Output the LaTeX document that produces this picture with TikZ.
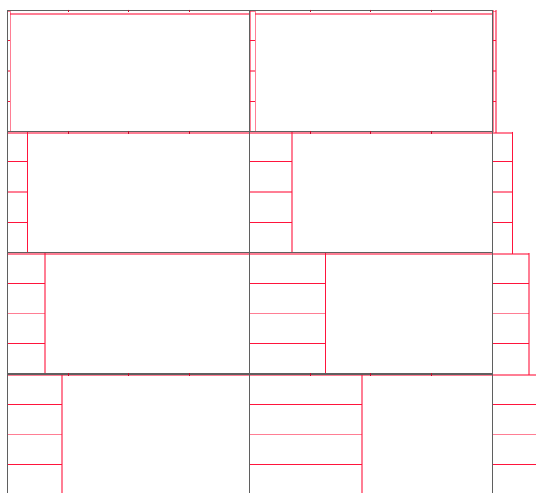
\documentclass[tikz,border=0pt]{standalone}
\definecolor{crim}{RGB}{255,20,60}
\definecolor{gridgray}{RGB}{95,95,95}
\tikzset{
  gridline/.style={draw=gridgray, line width=1.3pt},
  pinkline/.style={draw=crim, draw opacity=0.55, line width=1.6pt},
  redline/.style={draw=crim, line width=1.1pt},
  tickmark/.style={draw=crim!75!black, line width=1pt}
}
\begin{document}
\begin{tikzpicture}[x=1pt,y=-1pt]
\useasboundingbox (0,0) rectangle (536,493);
\def\xa{7.4}
\def\xb{249.6}
\def\xc{492.4}
\def\ya{10.4}
\def\H{121.2}
\def\W{242.6}
% red subdivisions, row by row
\foreach \r/\a/\b/\c/\mt/\vo/\ca/\cb/\cc in {
  0/2.9/5.7/3.6/3.3/0.9/pinkline/pinkline/pinkline,
  1/19.9/42.4/19.9/1.3/0/redline/pinkline/redline,
  2/37.6/76.1/36.3/1.3/0/pinkline/redline/pinkline,
  3/54.3/112.4/52.5/1.3/0/pinkline/pinkline/pinkline}{
  \pgfmathsetmacro\yt{\ya+\r*\H}
  \pgfmathsetmacro\yb{\yt+\H}
  \pgfmathsetmacro\yq{\yt+0.25*\H}
  \pgfmathsetmacro\yh{\yt+0.5*\H}
  \pgfmathsetmacro\yr{\yt+0.75*\H}
  % tops of the strips and of the main boxes
  \draw[pinkline] (\xa,\yt+1.2) -- (\xa+\a,\yt+1.2);
  \draw[pinkline] (\xb,\yt+1.2) -- (\xb+\b,\yt+1.2);
  \draw[pinkline] (\xc,\yt+1.2) -- (\xc+\c,\yt+1.2);
  \draw[pinkline] (\xa+\a,\yt+\mt) -- (\xb,\yt+\mt);
  \draw[pinkline] (\xb+\b,\yt+\mt) -- (\xc,\yt+\mt);
  % outer verticals
  \draw[pinkline] (\xa,\yt) -- (\xa,\yb);
  \draw[pinkline] (\xb+\vo,\yt) -- (\xb+\vo,\yb);
  \draw[pinkline] (\xc+\vo,\yt) -- (\xc+\vo,\yb);
  % strip boundaries
  \draw[\ca] (\xa+\a,\yt) -- (\xa+\a,\yb);
  \draw[\cb] (\xb+\b,\yt) -- (\xb+\b,\yb);
  \draw[\cc] (\xc+\c,\yt) -- (\xc+\c,\yb+1.2);
  % strip dividers
  \foreach \x/\w in {\xa/\a,\xb/\b,\xc/\c}{
    \draw[redline] (\x,\yq) -- (\x+\w,\yq);
    \draw[pinkline] (\x,\yh) -- (\x+\w,\yh);
    \draw[redline] (\x,\yr) -- (\x+\w,\yr);
  }
}
% grey grid
\foreach \x in {\xa,\xb,\xc}{
  \draw[gridline] (\x,\ya) -- (\x,500);
}
\foreach \k in {0,1,2,3}{
  \draw[gridline] (\xa,\ya+\k*\H) -- (\xc,\ya+\k*\H);
}
% small ticks on the top edges
\foreach \k in {0,1,3}{
  \foreach \f in {0.25,0.5,0.75}{
    \draw[tickmark] (\xa+\f*\W,\ya+\k*\H-0.8) -- (\xa+\f*\W,\ya+\k*\H+2);
    \draw[tickmark] (\xb+\f*\W,\ya+\k*\H-0.8) -- (\xb+\f*\W,\ya+\k*\H+2);
  }
}
\end{tikzpicture}
\end{document}
